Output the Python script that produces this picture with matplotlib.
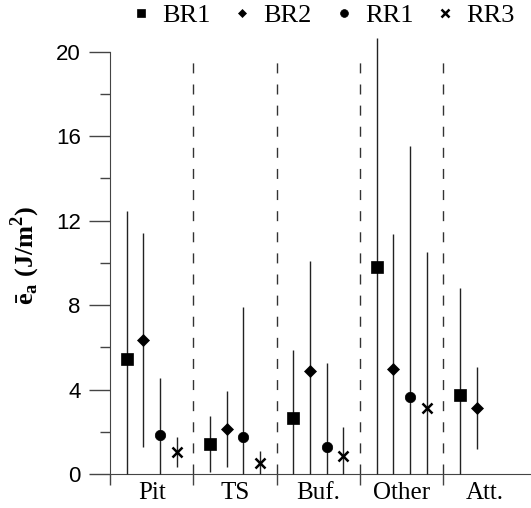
import numpy as np
import matplotlib
matplotlib.use("Agg")
import matplotlib.pyplot as plt
from matplotlib.ticker import FixedLocator, NullFormatter

plt.rcParams['mathtext.fontset'] = 'custom'
plt.rcParams['mathtext.rm'] = 'Liberation Serif'
plt.rcParams['mathtext.bf'] = 'Liberation Serif:bold'

groups = ['Pit', 'TS', 'Buf.', 'Other', 'Att.']
series = ['BR1', 'BR2', 'RR1', 'RR3']
markers = {'BR1': 's', 'BR2': 'D', 'RR1': 'o', 'RR3': 'x'}

# mean, lower end, upper end of each bar
br1_mean = [5.45, 1.44, 2.64, 9.80, 3.76]
br1_low = [0.0, 0.11, 0.0, 0.0, 0.0]
br1_high = [12.45, 2.73, 5.88, 20.66, 8.83]

br2_mean = [6.34, 2.12, 4.88, 4.99, 3.14]
br2_low = [1.30, 0.32, 0.0, 0.0, 1.20]
br2_high = [11.40, 3.92, 10.10, 11.37, 5.06]

rr1_mean = [1.85, 1.74, 1.30, 3.63, np.nan]
rr1_low = [0.0, 0.0, 0.0, 0.0, np.nan]
rr1_high = [4.57, 7.90, 5.28, 15.55, np.nan]

rr3_mean = [1.03, 0.51, 0.84, 3.11, np.nan]
rr3_low = [0.32, 0.0, 0.0, 0.0, np.nan]
rr3_high = [1.74, 1.07, 2.24, 10.50, np.nan]

data = {
    'BR1': (br1_mean, br1_low, br1_high),
    'BR2': (br2_mean, br2_low, br2_high),
    'RR1': (rr1_mean, rr1_low, rr1_high),
    'RR3': (rr3_mean, rr3_low, rr3_high),
}

fig = plt.figure(figsize=(5.31, 5.08), dpi=100)
ax = fig.add_axes([0.207, 0.067, 0.793, 0.860])

sizes = {'BR1': 8, 'BR2': 6, 'RR1': 7.5, 'RR3': 7}
for k, name in enumerate(series):
    mean, low, high = [np.array(a, dtype=float) for a in data[name]]
    x = np.arange(len(groups)) + 0.2 * (k + 1)
    err = np.vstack([mean - low, high - mean])
    ax.errorbar(x, mean, yerr=err, fmt=markers[name], color='black',
                ecolor='#222222', elinewidth=1.0, capsize=0,
                markersize=sizes[name], markeredgewidth=1.8 if name == 'RR3' else 0.5,
                label=name, clip_on=False, zorder=3)

# dashed separators between groups
for b in range(1, len(groups)):
    ax.plot([b, b], [0, 19.6], color='#333333', lw=1.0, dashes=(7.2, 8), zorder=1)

ax.set_xlim(0, 5.05)
ax.set_ylim(0, 20.7)
for s in ['top', 'right']:
    ax.spines[s].set_visible(False)
ax.spines['left'].set_bounds(0, 20)
ax.spines['left'].set_color('#444444')
ax.spines['bottom'].set_color('#444444')

ax.yaxis.set_major_locator(FixedLocator([0, 4, 8, 12, 16, 20]))
ax.yaxis.set_minor_locator(FixedLocator([2, 6, 10, 14, 18]))
ax.tick_params(axis='y', which='major', length=15, width=1, color='#444444',
               labelsize=16, pad=6)
ax.tick_params(axis='y', which='minor', length=7.5, width=1, color='#444444')
for lab in ax.get_yticklabels():
    lab.set_fontfamily('Liberation Sans')

ax.xaxis.set_major_locator(FixedLocator([0, 1, 2, 3, 4]))
ax.xaxis.set_major_formatter(NullFormatter())
ax.xaxis.set_minor_locator(FixedLocator(np.arange(len(groups)) + 0.5))
ax.set_xticklabels(groups, minor=True, fontfamily='Liberation Serif', fontsize=18)
ax.tick_params(axis='x', which='major', length=8, width=1, color='#444444')
ax.tick_params(axis='x', which='minor', length=0, pad=6)

ax.set_ylabel(r'$\mathbf{\bar{e}_a}$ (J/m$^\mathbf{2}$)', fontfamily='Liberation Serif',
              fontweight='bold', fontsize=19, labelpad=10)

handles, labels = ax.get_legend_handles_labels()
handles = [h[0] for h in handles]
leg = fig.legend(handles, labels, loc='upper center', bbox_to_anchor=(0.61, 1.04),
                 ncol=4, frameon=False, handlelength=0.6, handletextpad=0.5,
                 columnspacing=0.9, markerscale=0.75,
                 prop={'family': 'Liberation Serif', 'size': 19})

fig.savefig('out.png', dpi=100)
